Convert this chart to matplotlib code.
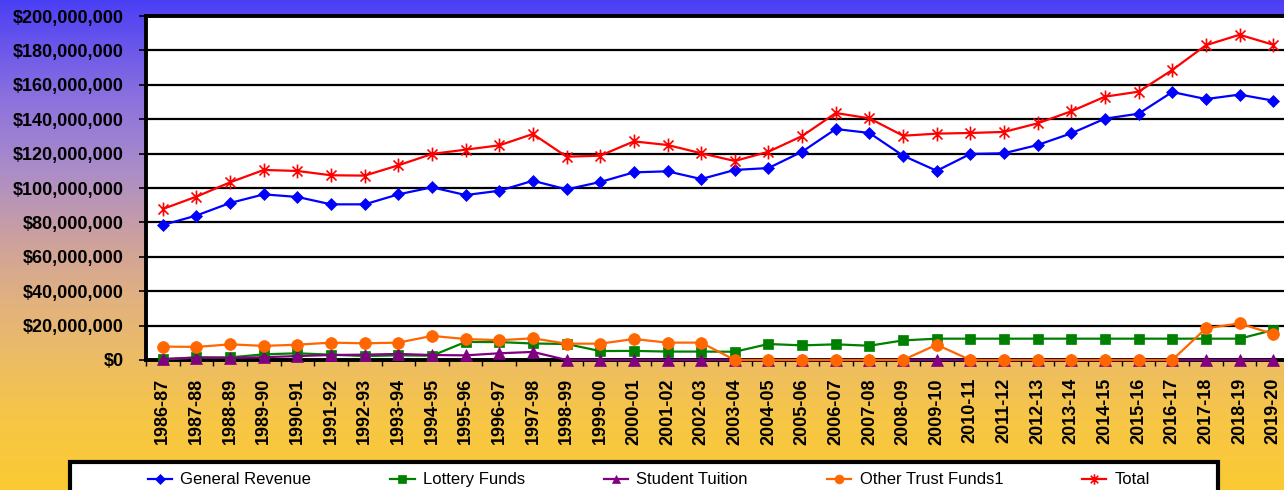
import numpy as np
import matplotlib
matplotlib.use('Agg')
import matplotlib.pyplot as plt
from matplotlib.path import Path
from matplotlib.patches import Rectangle
from matplotlib.ticker import FuncFormatter, FixedLocator

plt.rcParams['font.family'] = ['Liberation Sans', 'DejaVu Sans']

# ── data (dollars) ─────────────────────────────────────────────────
years = ['1986-87', '1987-88', '1988-89', '1989-90', '1990-91', '1991-92',
         '1992-93', '1993-94', '1994-95', '1995-96', '1996-97', '1997-98',
         '1998-99', '1999-00', '2000-01', '2001-02', '2002-03', '2003-04',
         '2004-05', '2005-06', '2006-07', '2007-08', '2008-09', '2009-10',
         '2010-11', '2011-12', '2012-13', '2013-14', '2014-15', '2015-16',
         '2016-17', '2017-18', '2018-19', '2019-20']

general_revenue = [78.5, 84.0, 91.3, 96.3, 94.8, 90.5, 90.5, 96.3, 100.4, 95.9,
                   98.4, 104.2, 99.2, 103.5, 109.1, 109.7, 105.2, 110.5, 111.6,
                   121.1, 134.3, 132.0, 118.8, 110.0, 119.8, 120.2, 125.0, 131.8,
                   140.3, 143.2, 155.8, 151.7, 154.3, 150.8]

lottery_funds = [0.3, 1.5, 1.5, 3.3, 3.9, 3.1, 2.3, 2.7, 2.5, 10.5,
                 10.4, 9.6, 9.3, 5.2, 5.3, 4.9, 4.9, 4.8, 9.3,
                 8.5, 9.1, 8.3, 11.4, 12.4, 12.4, 12.4, 12.4, 12.4,
                 12.4, 12.4, 12.4, 12.4, 12.4, 17.4]

student_tuition = [0.6, 1.4, 1.2, 1.6, 2.3, 2.9, 3.1, 3.5, 2.9, 2.7,
                   3.9, 4.7, 0, 0, 0, 0, 0, 0, 0,
                   0, 0, 0, 0, 0, 0, 0, 0, 0,
                   0, 0, 0, 0, 0, 0]

other_trust_funds = [7.8, 7.6, 9.1, 8.2, 8.9, 10.1, 9.7, 10.1, 14.0, 12.2,
                     11.5, 12.6, 9.5, 9.5, 12.2, 10.1, 10.1, 0, 0,
                     0, 0, 0, 0, 8.9, 0, 0, 0, 0,
                     0, 0, 0, 18.4, 21.3, 15.1]

total = [87.8, 95.0, 103.3, 110.5, 109.9, 107.4, 107.2, 113.2, 119.8, 122.3,
         124.8, 131.4, 118.2, 118.8, 127.1, 125.0, 120.2, 115.7, 121.1,
         130.2, 143.6, 140.5, 130.4, 131.6, 132.0, 132.6, 137.6, 144.6,
         153.1, 156.0, 168.6, 183.0, 189.1, 183.3]

y_ticks = np.arange(0, 200_000_001, 20_000_000)

# ── figure + gradient background ───────────────────────────────────
W, H = 1284, 490
fig = plt.figure(figsize=(W / 100, H / 100), dpi=100)

stops = [0.0, 0.03, 0.2, 0.35, 0.5, 0.62, 0.74, 0.86, 1.0]
cols = ['#4a3ef5', '#5446f2', '#8b71de', '#ab8dc8', '#cfa29b',
        '#e2b27e', '#edbd63', '#f7c645', '#fbca34']
rgb = np.array([matplotlib.colors.to_rgb(c) for c in cols])
t = np.linspace(0, 1, 400)
grad = np.stack([np.interp(t, stops, rgb[:, k]) for k in range(3)], axis=1)
bg = fig.add_axes([0, 0, 1, 1], zorder=0)
bg.imshow(grad[:, None, :], aspect='auto', extent=[0, 1, 0, 1])
bg.axis('off')

# plot area: x 146..1290 px, y 16..360 px
ax = fig.add_axes([146 / W, (H - 360) / H, 1144 / W, 344 / H], zorder=1)
ax.set_facecolor('white')

x = np.arange(len(years))
M = 1_000_000

asterisk = Path([(0, -1), (0, 1), (-0.72, -0.72), (0.72, 0.72), (-0.72, 0.72), (0.72, -0.72)],
                [Path.MOVETO, Path.LINETO, Path.MOVETO, Path.LINETO, Path.MOVETO, Path.LINETO])

series = [
    ('General Revenue', general_revenue, '#0000ff', 'D', 6.5),
    ('Lottery Funds', lottery_funds, '#008000', 's', 7.5),
    ('Student Tuition', student_tuition, '#800080', '^', 8.5),
    ('Other Trust Funds1', other_trust_funds, '#ff6600', 'o', 8.5),
    ('Total', total, '#ff0000', asterisk, 10),
]
handles = []
for i, (name, vals, c, mk, ms) in enumerate(series):
    h, = ax.plot(x, np.array(vals) * M, color=c, lw=1.6, marker=mk, ms=ms,
                 mfc=c, mec=c, mew=1.2 if mk is asterisk else 0.5,
                 clip_on=False, zorder=3 + i, label=name)
    handles.append(h)

ax.set_xlim(-0.5, len(years) - 0.5)
ax.set_ylim(0, 200 * M)
ax.set_yticks(y_ticks)
ax.yaxis.set_major_formatter(FuncFormatter(lambda v, p: f'${v:,.0f}'))
ax.grid(axis='y', color='black', lw=1.6, zorder=1)
ax.set_axisbelow(True)

ax.set_xticks(x)
ax.set_xticklabels(years, rotation=90, fontweight='bold', fontsize=13)
ax.xaxis.set_minor_locator(FixedLocator(np.arange(len(years) + 1) - 0.5))
ax.tick_params(axis='x', which='major', length=0, pad=13)
ax.tick_params(axis='x', which='minor', length=4, width=1, direction='out')
ax.tick_params(axis='y', length=5, width=1.2, pad=11, labelsize=13)
for lb in ax.get_yticklabels():
    lb.set_fontweight('bold')

for s in ['left', 'bottom', 'top']:
    ax.spines[s].set_linewidth(2.8)
    ax.spines[s].set_color('black')
ax.spines['right'].set_visible(False)

# ── legend box at the bottom ───────────────────────────────────────
box = Rectangle((70 / W, -0.05), (1218 - 70) / W, (H - 462) / H + 0.05,
                transform=fig.transFigure, facecolor='white', edgecolor='black',
                lw=3, zorder=2)
fig.add_artist(box)
leg = fig.legend(handles=handles, loc='center', ncol=5, mode='expand',
                 bbox_to_anchor=(148 / W, 0.0, (1150 - 148) / W, 0.041),
                 frameon=False, borderpad=0, fontsize=12, handlelength=1.45,
                 handletextpad=0.5, borderaxespad=0, columnspacing=1.0,
                 markerscale=0.75)
leg.set_zorder(3)

plt.savefig('out.png', dpi=100)
